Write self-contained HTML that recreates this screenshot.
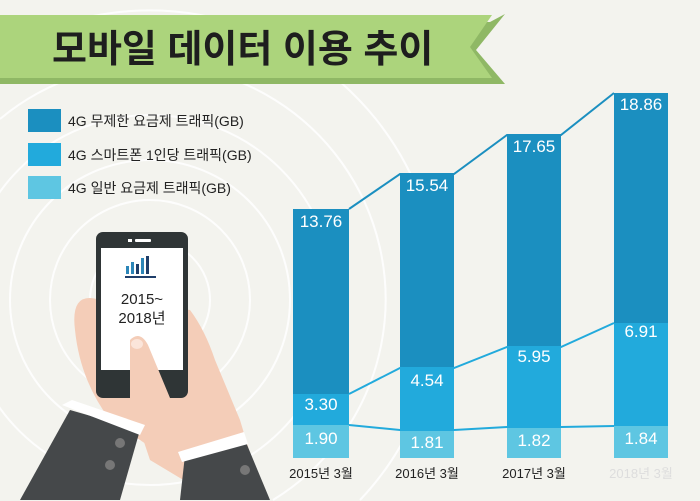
<!DOCTYPE html>
<html style="margin:0;width:700px;height:501px;overflow:hidden"><head><meta charset="utf-8"><style>
body{margin:0;width:700px;height:501px;overflow:hidden;background:#f3f3ee;font-family:"Liberation Sans","Noto Sans CJK KR",sans-serif;position:relative}
svg{display:block}
</style></head><body>
<svg width="700" height="501" viewBox="0 0 700 501" xmlns="http://www.w3.org/2000/svg" style="position:absolute;left:0;top:0">
<g fill="none" stroke="#ffffff" stroke-width="2" opacity="0.9">
<circle cx="150" cy="300" r="60"/><circle cx="150" cy="300" r="100"/><circle cx="150" cy="300" r="140"/><circle cx="150" cy="300" r="185"/>
<path d="M0,119 A235,235 0 1 1 273,500"/>
<path d="M0,52 A290,290 0 0 1 360,500"/>
</g>
<polygon points="0,22 490,22 505,14 476,50 505,84 0,84" fill="#8fb865"/>
<polygon points="0,15 492,15 470,47 492,78 0,78" fill="#acd47c"/>
<text x="52" y="62" font-size="38" font-weight="bold" fill="#1e1e1e" font-family="Liberation Sans,Noto Sans CJK KR,sans-serif">모바일 데이터 이용 추이</text>
<rect x="28" y="109" width="33" height="23" fill="#1b8fc0"/>
<rect x="28" y="143" width="33" height="23" fill="#22aadc"/>
<rect x="28" y="176" width="33" height="23" fill="#5ec6e2"/>
<g font-size="14" fill="#222"><text x="68" y="126">4G 무제한 요금제 트래픽(GB)</text><text x="68" y="160">4G 스마트폰 1인당 트래픽(GB)</text><text x="68" y="193">4G 일반 요금제 트래픽(GB)</text></g>
<g>
<rect x="293" y="209" width="56" height="185" fill="#1b8fc0"/><rect x="293" y="394" width="56" height="31" fill="#22aadc"/><rect x="293" y="425" width="56" height="33" fill="#5ec6e2"/>
<rect x="400" y="174" width="54" height="194" fill="#1b8fc0"/><rect x="400" y="368" width="54" height="62" fill="#22aadc"/><rect x="400" y="430" width="54" height="28" fill="#5ec6e2"/>
<rect x="507" y="135" width="54" height="212" fill="#1b8fc0"/><rect x="507" y="347" width="54" height="80" fill="#22aadc"/><rect x="507" y="427" width="54" height="31" fill="#5ec6e2"/>
<rect x="614" y="93" width="54" height="230" fill="#1b8fc0"/><rect x="614" y="323" width="54" height="103" fill="#22aadc"/><rect x="614" y="426" width="54" height="32" fill="#5ec6e2"/>
</g>
<g fill="none" stroke-width="2">
<polyline points="349,209 400,174 454,174 507,135 561,135 614,93" stroke="#1b8fc0"/>
<polyline points="349,394 400,368 454,368 507,347 561,347 614,323" stroke="#22aadc"/>
<polyline points="349,425 400,430 454,430 507,427 561,427 614,426" stroke="#22aadc"/>
</g>
<g font-size="17" fill="#ffffff" text-anchor="middle">
<text x="321" y="227">13.76</text><text x="321" y="410">3.30</text><text x="321" y="444">1.90</text>
<text x="427" y="191">15.54</text><text x="427" y="386">4.54</text><text x="427" y="448">1.81</text>
<text x="534" y="152">17.65</text><text x="534" y="362">5.95</text><text x="534" y="446">1.82</text>
<text x="641" y="110">18.86</text><text x="641" y="337">6.91</text><text x="641" y="444">1.84</text>
</g>
<g font-size="13" fill="#222" text-anchor="middle">
<text x="321" y="478">2015년 3월</text><text x="427" y="478">2016년 3월</text><text x="534" y="478">2017년 3월</text><text x="641" y="478" fill="#ddd">2018년 3월</text>
</g>
<path d="M75,330 Q70,290 100,300 L190,310 Q205,330 215,360 L240,420 L255,470 L200,480 L110,420 Q80,380 75,330Z" fill="#f4cdb8"/>
<rect x="96" y="232" width="92" height="166" rx="7" fill="#2f3536"/>
<rect x="101" y="248" width="82" height="122" fill="#ffffff"/>
<rect x="128" y="239" width="4" height="3" fill="#fff"/><rect x="135" y="239" width="16" height="3" rx="1" fill="#fff"/>
<g fill="#2c86b8"><rect x="126" y="266" width="3" height="8"/><rect x="131" y="262" width="3" height="12"/><rect x="136" y="264" width="3" height="10" fill="#1f3e6a"/><rect x="141" y="258" width="3" height="16"/><rect x="146" y="256" width="3" height="18" fill="#1f3e6a"/><rect x="125" y="276" width="31" height="2" fill="#1f3e6a"/></g>
<text x="142" y="304" font-size="15" text-anchor="middle" fill="#222">2015~</text>
<text x="142" y="323" font-size="15" text-anchor="middle" fill="#222">2018년</text>
<path d="M130,340 Q140,330 148,345 L175,410 L205,400 L225,420 L250,470 L200,490 L150,460 L130,400Z" fill="#f4cdb8"/>
<ellipse cx="137" cy="344" rx="6" ry="5" fill="#fbe5da"/>
<polygon points="70,410 140,430 120,500 20,500" fill="#45484a"/>
<polygon points="62,405 72,400 145,425 140,435" fill="#ffffff"/>
<polygon points="185,455 245,440 270,500 180,500" fill="#45484a"/>
<polygon points="178,452 244,432 248,444 182,462" fill="#ffffff"/>
<circle cx="120" cy="443" r="5" fill="#777"/><circle cx="110" cy="465" r="5" fill="#777"/><circle cx="245" cy="470" r="5" fill="#777"/>
</svg>
</body></html>
